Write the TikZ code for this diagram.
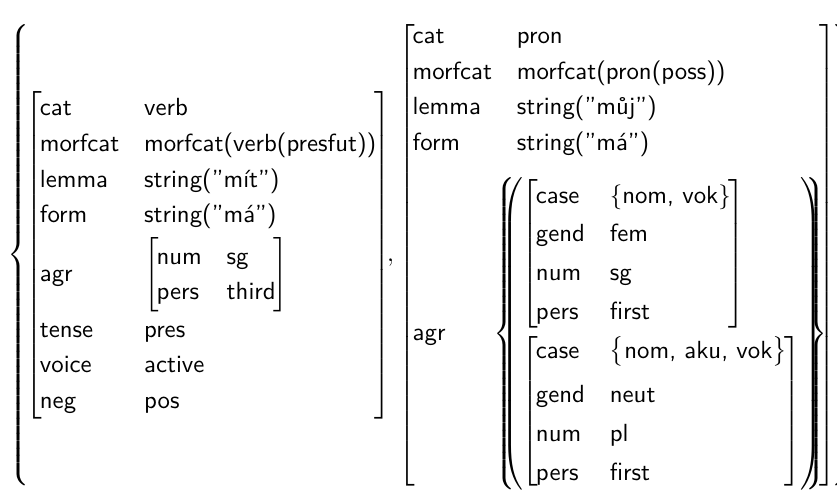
\documentclass[tikz,border=0pt]{standalone}
\renewcommand\familydefault{\sfdefault}
\newcommand\avmpair[2][1.2]{\kern-0.8pt{\renewcommand\arraystretch{#1}\begin{tabular}{@{}ll@{}}#2\end{tabular}}\kern-0.8pt}
\newcommand\avmone[1]{\begin{tabular}{@{}l@{}}#1\end{tabular}}
\newcommand\setof[1]{$\{\mbox{#1}\}$}
\newcommand\bigsetof[1]{$\bigl\{\mbox{#1}\bigr\}$}
\begin{document}
\begin{tikzpicture}
\useasboundingbox (0,0) rectangle (337.4pt,-198.7pt);
\node[inner sep=0pt, anchor=west, font=\sffamily] (f) at (2.8pt,-102.8pt) {%
\setlength\tabcolsep{5pt}%
$\left\{\!
\left[\avmpair{
cat & verb\\
morfcat & morfcat(verb(presfut))\\
lemma & string(”mít”)\\
form & string(”má”)\\[1.6pt]
agr & $\left[\avmpair{num & sg\\ pers & third}\right]$\\
tense & pres\\
voice & active\\
neg & pos}\right]\kern-3.2pt
,
\left[\avmpair{
cat & pron\\
morfcat & morfcat(pron(poss))\\
lemma & string(”můj”)\\
form & string(”má”)\\[6pt]
agr & $\kern-6.2pt\left(\kern-12pt\left\{\kern2.4pt\avmone{
$\left[\avmpair[1.3]{case & \setof{nom, vok}\\ gend & fem\\ num & sg\\ pers & first}\right]$\\
$\left[\avmpair[1.3]{case & \bigsetof{nom, aku, vok}\\[2.4pt] gend & neut\\ num & pl\\ pers & first}\right]$}\kern1.6pt\right\}\kern-10.8pt\right)\kern-0.4pt$}\right]
\!\right\}$};
\end{tikzpicture}
\end{document}
